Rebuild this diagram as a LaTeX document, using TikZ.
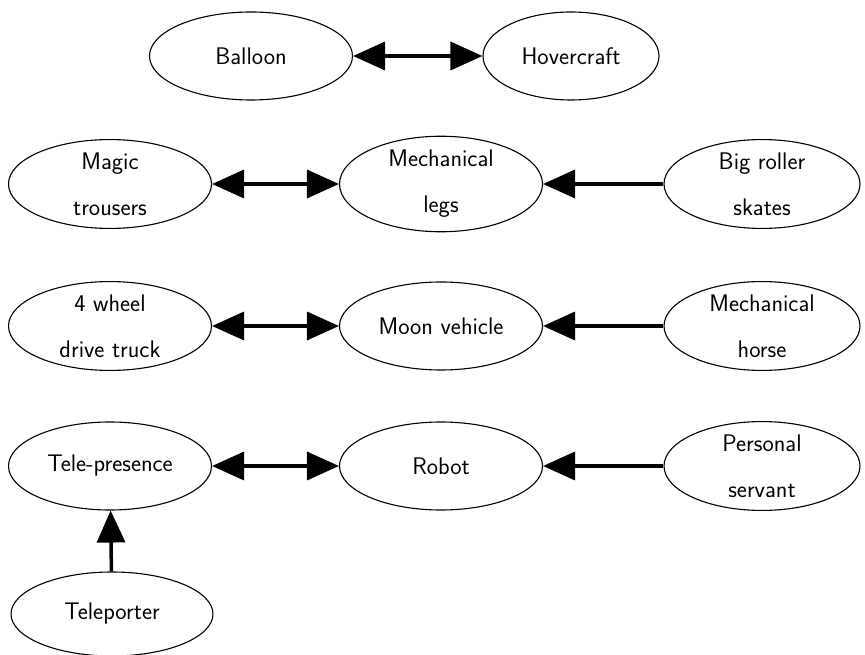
\documentclass[tikz,border=0pt]{standalone}
\usetikzlibrary{arrows.meta,shapes.geometric}
\begin{document}
\begin{tikzpicture}[x=1pt,y=1pt,
  idea/.style={draw, ellipse, line width=1.1pt, inner sep=0pt, minimum height=88pt, minimum width=203pt, align=center, font=\sffamily\fontsize{24}{46}\selectfont},
  link/.style={line width=3.5pt, {Triangle[length=32pt,width=28pt]}-{Triangle[length=32pt,width=28pt]}},
  feed/.style={line width=3.5pt, -{Triangle[length=32pt,width=28pt]}}]
\useasboundingbox (0,0) rectangle (865,654);
% row 1
\node[idea] (balloon) at (251,598) {Balloon};
\node[idea, minimum width=176pt] (hover) at (571,598) {Hovercraft};
% row 2
\node[idea] (magic) at (110,470) {Magic\\trousers};
\node[idea] (legs) at (441,470) {Mechanical\\legs};
\node[idea, minimum width=196pt] (roller) at (762,470) {Big roller\\skates};
% row 3
\node[idea] (truck) at (110,328) {4 wheel\\drive truck};
\node[idea] (moon) at (441,328) {Moon vehicle};
\node[idea, minimum width=196pt] (horse) at (762,328) {Mechanical\\horse};
% row 4
\node[idea] (tele) at (110,188) {Tele-presence};
\node[idea] (robot) at (441,188) {Robot};
\node[idea, minimum width=196pt] (servant) at (762,188) {Personal\\servant};
% row 5
\node[idea, minimum width=202pt, minimum height=84pt] (porter) at (112,40) {Teleporter};
% connectors
\draw[link] (balloon) -- (hover);
\draw[link] (magic) -- (legs);
\draw[feed] (roller) -- (legs);
\draw[link] (truck) -- (moon);
\draw[feed] (horse) -- (moon);
\draw[link] (tele) -- (robot);
\draw[feed] (servant) -- (robot);
\draw[feed] (porter) -- (tele);
\end{tikzpicture}
\end{document}
